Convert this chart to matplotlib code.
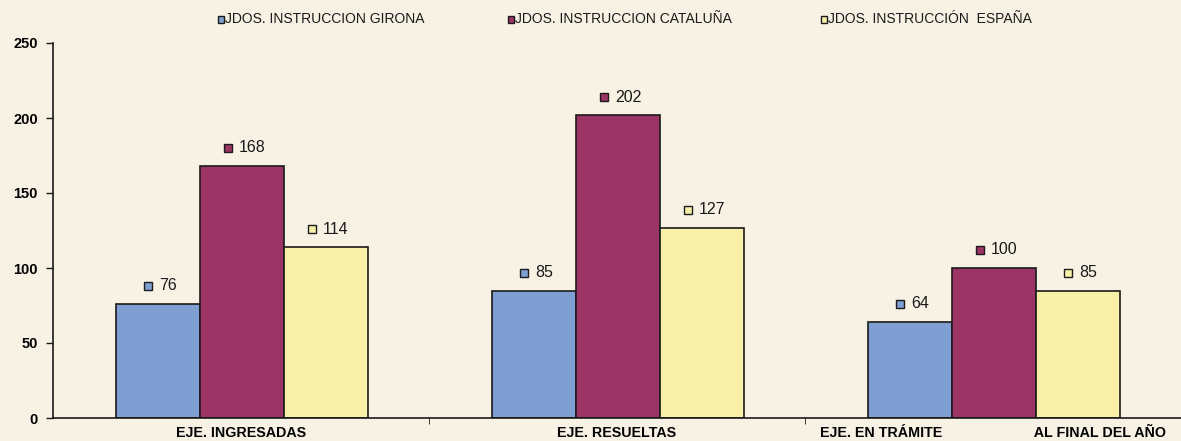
import matplotlib
matplotlib.use("Agg")
import matplotlib.pyplot as plt
import matplotlib.transforms as mtransforms
from matplotlib.patches import Rectangle
import numpy as np

categories = ["EJE. INGRESADAS", "EJE. RESUELTAS",
              "EJE. EN TRÁMITE" + " " * 23 + "AL FINAL DEL AÑO"]
series_names = ["JDOS. INSTRUCCION GIRONA", "JDOS. INSTRUCCION CATALUÑA", "JDOS. INSTRUCCIÓN  ESPAÑA"]
girona = [76, 85, 64]
cataluna = [168, 202, 100]
espana = [114, 127, 85]
yticks = [0, 50, 100, 150, 200, 250]

values = [girona, cataluna, espana]
colors = ["#7f9fd3", "#9c3465", "#f7f0a6"]
bg = "#f8f2e5"
ink = "#1a1a1a"

plt.rcParams['font.family'] = ['Liberation Sans', 'DejaVu Sans']

DPI = 100
fig = plt.figure(figsize=(11.81, 4.41), dpi=DPI, facecolor=bg)
ax = fig.add_axes([53/1181, 23/441, 1 - 53/1181, (418-43)/441])
ax.set_facecolor(bg)

x = np.arange(len(categories))
w = 0.223
labels = []
for i, (vals, c) in enumerate(zip(values, colors)):
    pos = x + (i - 1) * w + 0.003
    ax.bar(pos, vals, width=w, color=c, edgecolor=ink, linewidth=1.2, zorder=2)
    for p, v in zip(pos, vals):
        tnum = mtransforms.offset_copy(ax.transData, fig=fig, x=10, y=18, units='dots')
        t = ax.text(p, v, str(v), transform=tnum, ha='center', va='center', fontsize=11.5,
                    color=ink)
        labels.append((t, c))

ax.set_xlim(-0.5, 2.5)
ax.set_ylim(0, 250)
ax.set_yticks(yticks)
ax.set_yticklabels([str(t) for t in yticks], fontsize=10.5, fontweight='bold')
ax.set_xticks(x)
ax.set_xticklabels(categories, fontsize=10.3, fontweight='bold')
ax.tick_params(axis='x', length=0, pad=6)
ax.set_xticks([0.5, 1.5], minor=True)
ax.tick_params(axis='x', which='minor', length=4, direction='out', color=ink)
ax.tick_params(axis='y', length=5, width=1, direction='out', color=ink, pad=6)
for s in ['top', 'right']:
    ax.spines[s].set_visible(False)
for s in ['left', 'bottom']:
    ax.spines[s].set_color(ink)
    ax.spines[s].set_linewidth(1.2)

# square markers to the left of each data label
fig.canvas.draw()
renderer = fig.canvas.get_renderer()
for t, c in labels:
    bb = t.get_window_extent(renderer=renderer)
    cx = bb.x0 - 11
    cy = (bb.y0 + bb.y1) / 2
    ax.plot([cx], [cy], marker='s', markersize=5.8, markerfacecolor=c,
            markeredgecolor=ink, markeredgewidth=1.0,
            transform=mtransforms.IdentityTransform(), clip_on=False)

# legend
leg_x = [221, 511, 824]
leg_y = 441 - 19
for name, c, lx in zip(series_names, colors, leg_x):
    fig.patches.append(Rectangle(((lx - 3) / 1181, (leg_y - 3.5) / 441), 6 / 1181, 7 / 441,
                                 transform=fig.transFigure, facecolor=c,
                                 edgecolor=ink, linewidth=1.0))
    fig.text((lx + 4) / 1181, leg_y / 441, name, ha='left', va='center', fontsize=10,
             color=ink)

fig.savefig("out.png", dpi=DPI, facecolor=bg)
